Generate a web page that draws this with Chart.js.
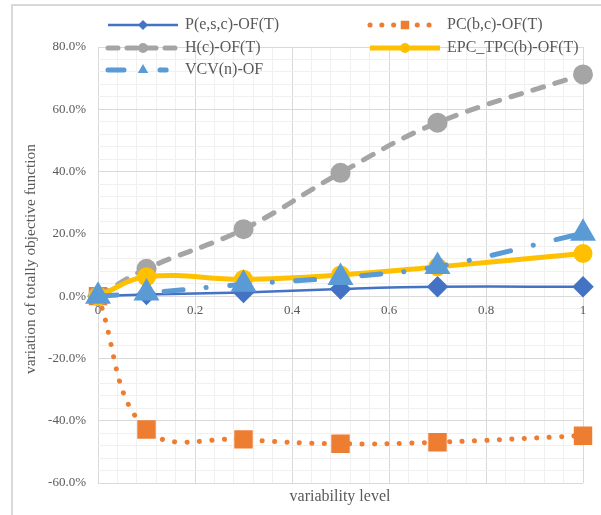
<!DOCTYPE html>
<html lang="en">
<head>
<meta charset="UTF-8">
<title>variation of totally objective function</title>
<script src="https://cdn.jsdelivr.net/npm/chart.js"></script>
<style>
  body { margin: 0; background: #fff; }
  .chart-box { width: 601px; height: 515px; }
</style>
</head>
<body>
<div class="chart-box"><canvas id="chart"></canvas></div>
<script>
// variability levels
const levels = [0, 0.1, 0.3, 0.5, 0.7, 1];

// variation of totally objective function (%)
const pOF = [0, 0.5, 1.2, 2.3, 3.0, 3.0];
const pcOF = [0, -42.8, -46.0, -47.4, -46.9, -44.8];
const hOF = [0, 8.8, 21.5, 39.6, 55.7, 71.2];
const epcOF = [0, 6.2, 5.4, 6.8, 9.4, 13.7];
const vcvOF = [0, 1.0, 3.8, 6.0, 9.5, 20.2];

// axis tick labels
const xLabels = [0, 0.2, 0.4, 0.6, 0.8, 1];
const yLabels = [-60, -40, -20, 0, 20, 40, 60, 80];

// major ticks + 4 minor gridlines between them
const subdivide = (arr, n) => {
    const out = [];
    for (let i = 0; i < arr.length - 1; i++) {
        for (let k = 0; k < n; k++) out.push(arr[i] + (arr[i + 1] - arr[i]) * k / n);
    }
    out.push(arr[arr.length - 1]);
    return out;
};
const isMajor = (v, list) => list.some(m => Math.abs(m - v) < 1e-9);

const pts = ys => levels.map((x, i) => ({ x: x, y: ys[i] }));

const font = '"Liberation Serif", "Times New Roman", serif';
const textColor = '#595959';

const legendPlugin = {
    id: 'excelLegend',
    afterDraw(chart) {
        const ctx = chart.ctx;
        ctx.save();
        // chart frame
        ctx.strokeStyle = '#d9d9d9';
        ctx.lineWidth = 2;
        ctx.beginPath();
        ctx.moveTo(12, 515);
        ctx.lineTo(12, 5);
        ctx.lineTo(601, 5);
        ctx.stroke();

        // legend
        chart.data.datasets.forEach((ds, i) => {
            const x = [108, 370][i % 2];
            const y = [25, 48, 70][Math.floor(i / 2)];
            ctx.strokeStyle = ds.borderColor;
            ctx.lineWidth = ds.borderWidth;
            ctx.lineCap = ds.borderCapStyle || 'butt';
            ctx.setLineDash(ds.legendDash || ds.borderDash || []);
            ctx.beginPath();
            ctx.moveTo(x, y);
            ctx.lineTo(x + 70, y);
            ctx.stroke();
            ctx.setLineDash([]);
            ctx.fillStyle = ds.borderColor;
            Chart.helpers.drawPoint(ctx, { pointStyle: ds.pointStyle, radius: ds.legendRadius, rotation: 0, borderWidth: 0 }, x + 35, y);
            ctx.fillStyle = textColor;
            ctx.font = '16px ' + font;
            ctx.textBaseline = 'middle';
            ctx.textAlign = 'left';
            ctx.fillText(ds.label, x + 77, y);
        });

        // axis titles
        ctx.fillStyle = textColor;
        ctx.font = '16px ' + font;
        ctx.textAlign = 'center';
        ctx.textBaseline = 'middle';
        ctx.fillText('variability level', 340, 497);
        ctx.font = '15.4px ' + font;
        ctx.translate(31, 259);
        ctx.rotate(-Math.PI / 2);
        ctx.fillText('variation of totally objective function', 0, 0);
        ctx.restore();
    }
};

new Chart(document.getElementById('chart'), {
    type: 'line',
    data: {
        datasets: [{
            label: 'P(e,s,c)-OF(T)',
            data: pts(pOF),
            borderColor: '#4472C4',
            backgroundColor: '#4472C4',
            borderWidth: 2.5,
            pointStyle: 'rectRot',
            pointRadius: 9,
            legendRadius: 5,
            order: 5
        }, {
            label: 'PC(b,c)-OF(T)',
            data: pts(pcOF),
            borderColor: '#ED7D31',
            backgroundColor: '#ED7D31',
            borderWidth: 5,
            borderDash: [0.1, 12.4],
            legendDash: [0.1, 11.7],
            borderCapStyle: 'round',
            pointStyle: 'rect',
            pointRadius: 9.5,
            legendRadius: 6,
            order: 4
        }, {
            label: 'H(c)-OF(T)',
            data: pts(hOF),
            borderColor: '#A5A5A5',
            backgroundColor: '#A5A5A5',
            borderWidth: 5,
            borderDash: [11, 12],
            legendDash: [10, 9],
            borderCapStyle: 'round',
            pointStyle: 'circle',
            pointRadius: 7.5,
            legendRadius: 5,
            order: 3
        }, {
            label: 'EPC_TPC(b)-OF(T)',
            data: pts(epcOF),
            borderColor: '#FFC000',
            backgroundColor: '#FFC000',
            borderWidth: 5,
            pointStyle: 'circle',
            pointRadius: 7,
            legendRadius: 5,
            order: 2
        }, {
            label: 'VCV(n)-OF',
            data: pts(vcvOF),
            borderColor: '#5B9BD5',
            backgroundColor: '#5B9BD5',
            borderWidth: 5,
            borderDash: [19, 23.5, 0.1, 23.5],
            legendDash: [16, 36, 0.1, 0.1, 6, 20],
            borderCapStyle: 'round',
            pointStyle: 'triangle',
            pointRadius: 10,
            legendRadius: 6,
            order: 1
        }]
    },
    options: {
        responsive: true,
        maintainAspectRatio: false,
        animation: false,
        clip: false,
        elements: {
            line: { tension: 0.4, fill: false },
            point: { borderWidth: 1, hoverRadius: 9 }
        },
        layout: { padding: { left: 0, right: 18, top: 47, bottom: 32 } },
        plugins: {
            legend: { display: false },
            tooltip: { enabled: false }
        },
        scales: {
            x: {
                type: 'linear',
                position: { y: 0 },
                min: 0,
                max: 1,
                afterBuildTicks: scale => { scale.ticks = subdivide(xLabels, 5).map(v => ({ value: v })); },
                ticks: {
                    autoSkip: false,
                    maxRotation: 0,
                    padding: 7,
                    color: textColor,
                    font: { family: font, size: 13 },
                    callback: v => isMajor(v, xLabels) ? String(+v.toFixed(1)) : ''
                },
                grid: {
                    drawTicks: false,
                    color: c => isMajor(c.tick.value, xLabels) ? '#d9d9d9' : '#f0f0f0'
                },
                border: { display: false }
            },
            y: {
                type: 'linear',
                min: -60,
                max: 80,
                afterFit: scale => { scale.width = 98; },
                afterBuildTicks: scale => { scale.ticks = subdivide(yLabels, 5).map(v => ({ value: v })); },
                ticks: {
                    autoSkip: false,
                    padding: 12,
                    color: textColor,
                    font: { family: font, size: 13 },
                    callback: v => isMajor(v, yLabels) ? v.toFixed(1) + '%' : ''
                },
                grid: {
                    drawTicks: false,
                    color: c => isMajor(c.tick.value, yLabels) ? '#d9d9d9' : '#f0f0f0'
                },
                border: { display: false }
            }
        }
    },
    plugins: [legendPlugin]
});
</script>
</body>
</html>
